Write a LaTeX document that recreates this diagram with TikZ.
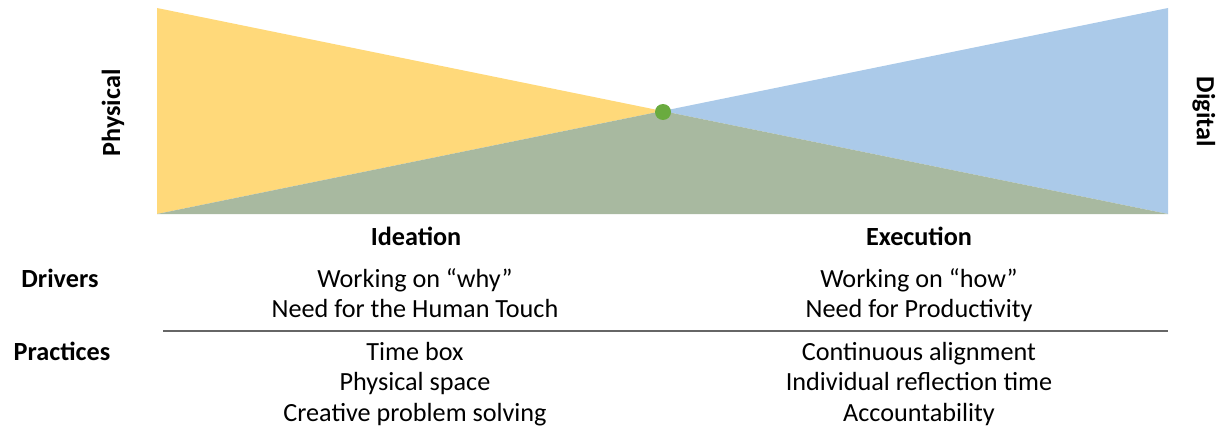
\documentclass[tikz,border=0pt]{standalone}
\usepackage{fontspec}
\setmainfont{Carlito}
\begin{document}
\begin{tikzpicture}[x=1pt,y=-1pt,
  txt/.style={inner sep=0pt,text height=0.64em,text depth=0pt,font=\fontsize{26.2}{30}\selectfont},
  head/.style={txt,font=\fontsize{26.2}{30}\selectfont\bfseries},
  rule/.style={draw=black!60,line width=2pt}]
\definecolor{ideaYellow}{RGB}{255,217,122}
\definecolor{execBlue}{RGB}{171,202,233}
\definecolor{overlapGreen}{RGB}{168,185,160}
\definecolor{pivotGreen}{RGB}{106,171,63}
\useasboundingbox (0,0) rectangle (1224,428);

% triangles: physical fades to the right, digital grows to the right
\coordinate (tl) at (157,8);
\coordinate (bl) at (157,214);
\coordinate (tr) at (1168,8);
\coordinate (br) at (1168,214);
\coordinate (mid) at (662.5,111);
\fill[ideaYellow] (tl) -- (mid) -- (bl) -- cycle;
\fill[execBlue] (tr) -- (br) -- (mid) -- cycle;
\fill[overlapGreen] (bl) -- (mid) -- (br) -- cycle;
\fill[pivotGreen] (663,112) circle (8);

% axis labels
\node[head,rotate=90] (phys) at (117,113) {Physical};
\node[head,rotate=-90] (digi) at (1200,112) {Digital};

% column headings
\node[head] (idea) at (416,242) {Ideation};
\node[head] (exec) at (919,242) {Execution};

% row labels
\node[head] (drv) at (60,284) {Drivers};
\node[head] (prc) at (62,357) {Practices};

% drivers
\node[txt] (d1) at (415,284) {Working on “why”};
\node[txt] (d2) at (415,314) {Need for the Human Touch};
\node[txt] (d3) at (919,284) {Working on “how”};
\node[txt] (d4) at (919,314) {Need for Productivity};

% separator
\coordinate (rl) at (163,331);
\coordinate (rr) at (1168,331);
\draw[rule] (rl) -- (rr);

% practices
\node[txt] (p1) at (415,357) {Time box};
\node[txt] (p2) at (415,387) {Physical space};
\node[txt] (p3) at (415,418) {Creative problem solving};
\node[txt] (p4) at (919,357) {Continuous alignment};
\node[txt] (p5) at (919,387) {Individual reflection time};
\node[txt] (p6) at (919,418) {Accountability};
\end{tikzpicture}
\end{document}
